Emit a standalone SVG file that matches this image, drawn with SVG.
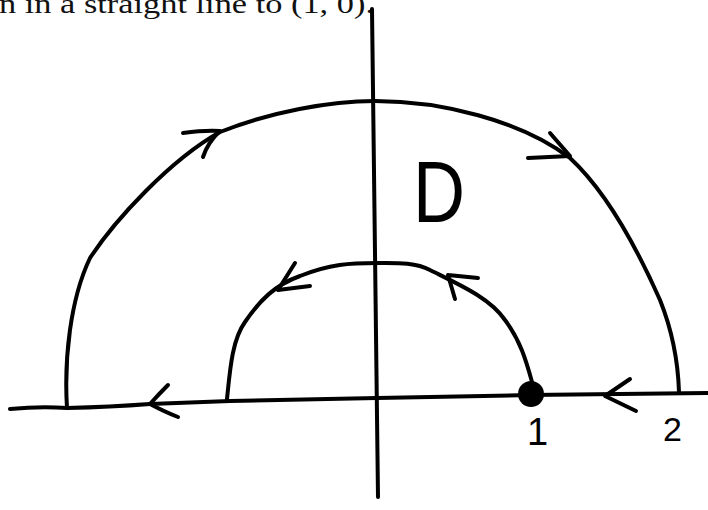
<svg xmlns="http://www.w3.org/2000/svg" width="708" height="510" viewBox="0 0 708 510">
<style>
.ink{fill:none;stroke:#000;stroke-width:4;stroke-linecap:round;stroke-linejoin:round}
.hand{font-family:"Liberation Sans","DejaVu Sans",sans-serif;fill:#000}
.cap{font-family:"Liberation Serif","DejaVu Serif",serif;fill:#111}
</style>
<rect width="708" height="510" fill="#fff"/>
<text class="cap" x="-1" y="13" font-size="27" textLength="375" lengthAdjust="spacingAndGlyphs">n in a straight line to (1, 0).</text>
<g id="axes">
<path class="ink" d="M10,409 Q40,406 67,408 Q110,407 150,404 L230,401 L377,398 L530,395 L708,393"/>
<path class="ink" d="M372,9 C374,150 376,300 378,497"/>
</g>
<g id="connectors">
<path id="outer-arc" class="ink" d="M67,408 C64,360 70,300 90,258 C115,220 170,160 220,132 C270,112 330,101 375,101 C440,101 520,120 570,158 C610,195 640,255 660,300 C672,330 678,360 679,392"/>
<path id="inner-arc" class="ink" d="M227,399 C230,370 232,340 245,322 C260,300 275,285 300,276 C330,264 350,263 377,263 C395,263 415,262 430,270 C460,285 490,298 505,320 C520,340 526,360 532,382"/>
<path class="ink" d="M183,133 Q205,130 220,131 Q208,142 203,157"/>
<path class="ink" d="M528,158 L570,156 M550,133 L570,156"/>
<path class="ink" d="M295,263 L278,290 L310,286"/>
<path class="ink" d="M448,275 L478,278 M448,275 L455,299"/>
<path class="ink" d="M168,385 Q158,395 150,404 Q165,412 178,417"/>
<path class="ink" d="M630,379 L605,396 L636,411"/>
</g>
<g id="point-1">
<circle cx="531" cy="394" r="13" fill="#000"/>
<text class="hand" x="527" y="445" font-size="38">1</text>
</g>
<g id="point-2">
<text class="hand" x="663" y="441" font-size="34">2</text>
</g>
<g id="region-D">
<text class="hand" x="413" y="222" font-size="88" textLength="52" lengthAdjust="spacingAndGlyphs">D</text>
</g>
</svg>
